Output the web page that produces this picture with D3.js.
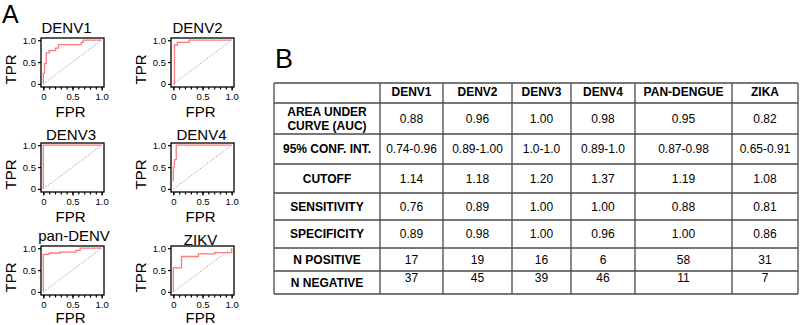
<!DOCTYPE html>
<html>
<head>
<meta charset="utf-8">
<script src="https://cdn.jsdelivr.net/npm/d3@7"></script>
<style>
  html, body { margin: 0; padding: 0; background: #fff; }
  svg { display: block; font-family: "Liberation Sans", Arial, sans-serif; }
</style>
</head>
<body>
<div id="chart"></div>
<script>
'use strict';

// ---- data: ROC curves, [FPR, TPR] step points ----
const panelNames = ['DENV1', 'DENV2', 'DENV3', 'DENV4', 'pan-DENV', 'ZIKV'];

const rocDenv1 = [[0, 0], [0, 0.24], [0.02, 0.24], [0.02, 0.47], [0.05, 0.47], [0.05, 0.71],
  [0.1, 0.71], [0.1, 0.76], [0.21, 0.76], [0.21, 0.82], [0.26, 0.82], [0.26, 0.9],
  [0.65, 0.9], [0.65, 0.95], [0.68, 0.95], [0.68, 1], [1, 1]];
const rocDenv2 = [[0, 0], [0.02, 0], [0.02, 0.89], [0.07, 0.89], [0.07, 0.95],
  [0.27, 0.95], [0.27, 1], [1, 1]];
const rocDenv3 = [[0, 0], [0, 1], [1, 1]];
const rocDenv4 = [[0, 0.17], [0, 0.5], [0.02, 0.5], [0.02, 0.67], [0.05, 0.67], [0.05, 1], [1, 1]];
const rocPan = [[0, 0], [0, 0.86], [0.1, 0.86], [0.1, 0.89], [0.29, 0.89], [0.29, 0.91],
  [0.56, 0.91], [0.56, 0.95], [0.63, 0.95], [0.63, 1], [1, 1]];
const rocZikv = [[0, 0], [0, 0.55], [0.14, 0.55], [0.14, 0.81], [0.43, 0.81], [0.43, 0.87],
  [0.71, 0.87], [0.71, 0.9], [1, 0.9], [1, 1]];
const rocCurves = [rocDenv1, rocDenv2, rocDenv3, rocDenv4, rocPan, rocZikv];

const yTicks = [0, 0.5, 1];
const xTicks = [0, 0.5, 1];
const xMinorTicks = d3.range(0, 1.0001, 0.1);

// ---- data: summary table ----
const tableColumns = ['DENV1', 'DENV2', 'DENV3', 'DENV4', 'PAN-DENGUE', 'ZIKA'];
const rowLabels = [['AREA UNDER', 'CURVE (AUC)'], ['95% CONF. INT.'], ['CUTOFF'],
  ['SENSITIVITY'], ['SPECIFICITY'], ['N POSITIVE'], ['N NEGATIVE']];
const auc         = ['0.88', '0.96', '1.00', '0.98', '0.95', '0.82'];
const confInt     = ['0.74-0.96', '0.89-1.00', '1.0-1.0', '0.89-1.0', '0.87-0.98', '0.65-0.91'];
const cutoff      = ['1.14', '1.18', '1.20', '1.37', '1.19', '1.08'];
const sensitivity = ['0.76', '0.89', '1.00', '1.00', '0.88', '0.81'];
const specificity = ['0.89', '0.98', '1.00', '0.96', '1.00', '0.86'];
const nPositive   = ['17', '19', '16', '6', '58', '31'];
const nNegative   = ['37', '45', '39', '46', '11', '7'];
const tableRows = [auc, confInt, cutoff, sensitivity, specificity, nPositive, nNegative];

// ---- layout ----
const W = 800, H = 325;
const COL_X = [41, 171];
const ROW_Y = [38, 143, 246];
const BOX_W = 63, BOX_H = 49;
const TITLE_DX = [-6, -5, -1.5, -1, 1.5, -2];
const TITLE_DY = [-5, -5, -3, -3, -5, -1];
const RED = '#ff7b7b';

const COL_EDGES = [274, 380, 443, 512, 571, 635, 732, 798];
const ROW_EDGES = [83, 103, 134, 164, 193, 220, 248, 271, 294];
const GRID = '#4a4a4a';

const svg = d3.select('#chart').append('svg')
  .attr('width', W)
  .attr('height', H);

svg.append('text').attr('x', 2).attr('y', 23)
  .attr('font-size', 25).text('A');
svg.append('text').attr('x', 275).attr('y', 68)
  .attr('font-size', 27).text('B');

const fmtTick = d => d === 0 ? '0' : d3.format('.1f')(d);

panelNames.forEach((name, i) => {
  const bx = COL_X[i % 2];
  const by = ROW_Y[Math.floor(i / 2)];
  const x = d3.scaleLinear().domain([-0.04, 1.04]).range([bx, bx + BOX_W]);
  const y = d3.scaleLinear().domain([-0.07, 1.05]).range([by + BOX_H, by]);
  const g = svg.append('g');

  // chance diagonal
  g.append('line')
    .attr('x1', x(0)).attr('y1', y(0))
    .attr('x2', x(1)).attr('y2', y(1))
    .attr('stroke', '#8a8a8a')
    .attr('stroke-width', 0.9)
    .attr('stroke-dasharray', '1.2,1.6');

  g.append('path')
    .datum(rocCurves[i])
    .attr('fill', 'none')
    .attr('stroke', RED)
    .attr('stroke-width', 1.3)
    .attr('d', d3.line().x(d => x(d[0])).y(d => y(d[1])));

  g.append('rect')
    .attr('x', bx).attr('y', by)
    .attr('width', BOX_W).attr('height', BOX_H)
    .attr('fill', 'none')
    .attr('stroke', '#000')
    .attr('stroke-width', 1.3);

  const yAxis = g.append('g')
    .attr('transform', `translate(${bx},0)`)
    .call(d3.axisLeft(y).tickValues(yTicks).tickFormat(fmtTick).tickSize(3).tickPadding(2));
  const xAxis = g.append('g')
    .attr('transform', `translate(0,${by + BOX_H})`)
    .call(d3.axisBottom(x).tickValues(xTicks).tickFormat(fmtTick).tickSize(3.5).tickPadding(3));
  g.append('g')
    .attr('transform', `translate(0,${by + BOX_H})`)
    .call(d3.axisBottom(x).tickValues(xMinorTicks).tickFormat('').tickSize(2.5))
    .call(a => a.select('.domain').remove())
    .selectAll('line').attr('stroke-width', 1.2);

  [yAxis, xAxis].forEach(a => {
    a.select('.domain').remove();
    a.selectAll('line').attr('stroke-width', 1.2);
    a.selectAll('text')
      .attr('font-family', '"Liberation Sans", Arial, sans-serif')
      .attr('font-size', 9.5)
      .attr('fill', '#000');
  });

  const cx = bx + BOX_W / 2;
  g.append('text')
    .attr('x', cx + TITLE_DX[i]).attr('y', by + TITLE_DY[i])
    .attr('text-anchor', 'middle')
    .attr('font-size', 15)
    .text(name);
  g.append('text')
    .attr('x', cx - 2).attr('y', Math.min(by + BOX_H + 30, H - 2))
    .attr('text-anchor', 'middle')
    .attr('font-size', 15)
    .text('FPR');
  g.append('text')
    .attr('transform', `translate(${bx - 25},${by + BOX_H / 2 + 7}) rotate(-90)`)
    .attr('text-anchor', 'middle')
    .attr('font-size', 15)
    .text('TPR');
});

// ---- table ----
const tg = svg.append('g');
const tLeft = COL_EDGES[0], tRight = COL_EDGES[COL_EDGES.length - 1];
const tTop = ROW_EDGES[0], tBottom = ROW_EDGES[ROW_EDGES.length - 1];

tg.selectAll('line.h').data(ROW_EDGES).join('line')
  .attr('class', 'h')
  .attr('x1', tLeft).attr('x2', tRight)
  .attr('y1', d => d).attr('y2', d => d)
  .attr('stroke', GRID).attr('stroke-width', 1.3);
tg.selectAll('line.v').data(COL_EDGES).join('line')
  .attr('class', 'v')
  .attr('x1', d => d).attr('x2', d => d)
  .attr('y1', tTop).attr('y2', tBottom)
  .attr('stroke', GRID).attr('stroke-width', 1.3);

const colMid = i => (COL_EDGES[i] + COL_EDGES[i + 1]) / 2;
const rowMid = i => (ROW_EDGES[i] + ROW_EDGES[i + 1]) / 2;

tg.selectAll('text.head').data(tableColumns).join('text')
  .attr('class', 'head')
  .attr('x', (d, i) => colMid(i + 1))
  .attr('y', rowMid(0) - 1)
  .attr('dy', '0.35em')
  .attr('text-anchor', 'middle')
  .attr('font-size', 12)
  .attr('font-weight', 'bold')
  .text(d => d);

rowLabels.forEach((lines, r) => {
  const ym = rowMid(r + 1);
  lines.forEach((line, k) => {
    tg.append('text')
      .attr('x', colMid(0))
      .attr('y', ym + (k - (lines.length - 1) / 2) * 14)
      .attr('dy', '0.35em')
      .attr('text-anchor', 'middle')
      .attr('font-size', 12)
      .attr('font-weight', 'bold')
      .text(line);
  });
  // the last row's numbers sit high in their cells in the original
  const shift = r === rowLabels.length - 1 ? -4.5 : 0;
  tableRows[r].forEach((v, c) => {
    tg.append('text')
      .attr('x', colMid(c + 1))
      .attr('y', ym + shift)
      .attr('dy', '0.35em')
      .attr('text-anchor', 'middle')
      .attr('font-size', 12)
      .text(v);
  });
});
</script>
</body>
</html>
